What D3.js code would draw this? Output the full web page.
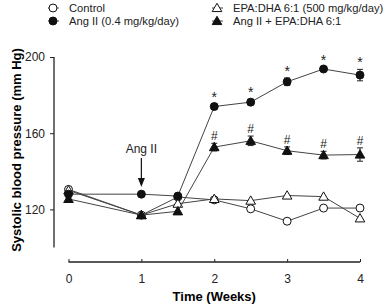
<!DOCTYPE html>
<html lang="en">
<head>
    <meta charset="UTF-8">
    <title>Systolic blood pressure</title>
    <script src="https://d3js.org/d3.v7.min.js"></script>
    <style>
        body {
            margin: 0;
            background: #fff;
            font-family: Arial, "Liberation Sans", sans-serif;
        }
    </style>
</head>
<body>
    <div id="chart"></div>

    <script>
        // data
        const weeks = [0, 1, 1.5, 2, 2.5, 3, 3.5, 4];
        const control = [130.5, 117, 126.5, 125, 120.3, 113.8, 120.7, 120.7];
        const epaDha = [130, 117, 123, 125.5, 124.6, 127.3, 126.7, 115.3];
        const angEpa = [125.5, 117, 119, 152.7, 156, 150.8, 148.5, 148.8];
        const angEpaErr = [0, 0, 0, 2, 2.5, 2, 2, 3.5];
        const angII = [128, 128, 127, 174, 176.3, 187, 193.7, 190.5];
        const angIIErr = [0, 0, 0, 1.5, 1.5, 2, 1, 3];
        const xTicks = [0, 1, 2, 3, 4];
        const yTicks = [120, 160, 200];

        const width = 390;
        const height = 305;

        const svg = d3.select("#chart")
            .append("svg")
            .attr("width", width)
            .attr("height", height);

        const x = d3.scaleLinear().domain([0, 4]).range([68.5, 360]);
        const y = d3.scaleLinear().domain([100, 200]).range([247.5, 57]);

        // axes (offset, sigmaplot style)
        const yAxis = svg.append("g")
            .attr("transform", "translate(54,0)")
            .call(d3.axisLeft(y).tickValues(yTicks).tickSize(4).tickPadding(5).tickFormat(d3.format("d")));
        const xAxis = svg.append("g")
            .attr("transform", "translate(0,262)")
            .call(d3.axisBottom(x).tickValues(xTicks).tickSize(-3).tickPadding(8).tickFormat(d3.format("d")));

        [xAxis, yAxis].forEach(g => {
            g.select(".domain").attr("d", null);
            g.selectAll("text").attr("font-size", 12).attr("font-family", "Arial, 'Liberation Sans', sans-serif").attr("fill", "#222");
            g.selectAll("line").attr("stroke", "#222");
        });
        xAxis.append("line").attr("x1", x(0)).attr("x2", x(4)).attr("stroke", "#222").attr("stroke-width", 1.3);
        xAxis.selectAll(".tick text").attr("dy", "1.05em");
        yAxis.append("line").attr("y1", y(200)).attr("y2", y(100)).attr("stroke", "#222").attr("stroke-width", 1.3);

        // axis titles
        svg.append("text")
            .attr("x", x(2))
            .attr("y", 301)
            .attr("text-anchor", "middle")
            .attr("font-size", 13)
            .attr("font-weight", "bold")
            .text("Time (Weeks)");
        svg.append("text")
            .attr("transform", "translate(21,150) rotate(-90)")
            .attr("text-anchor", "middle")
            .attr("font-size", 13)
            .attr("font-weight", "bold")
            .text("Systolic blood pressure (mm Hg)");

        const series = [
            { name: "Control", values: control, shape: "circle", fill: "#fff" },
            { name: "EPA:DHA 6:1 (500 mg/kg/day)", values: epaDha, shape: "triangle", fill: "#fff" },
            { name: "Ang II + EPA:DHA 6:1", values: angEpa, err: angEpaErr, mark: "#", shape: "triangle", fill: "#111" },
            { name: "Ang II (0.4 mg/kg/day)", values: angII, err: angIIErr, mark: "*", shape: "circle", fill: "#111" }
        ];

        const circle = d3.symbol().type(d3.symbolCircle).size(50);
        const triangle = d3.symbol().type(d3.symbolTriangle).size(40);

        const line = d3.line()
            .x(d => x(d[0]))
            .y(d => y(d[1]));

        function drawMarker(g, s, px, py) {
            g.append("path")
                .attr("d", s.shape === "circle" ? circle() : triangle())
                .attr("transform", `translate(${px},${py + (s.shape === "triangle" ? 0.8 : 0)})`)
                .attr("fill", s.fill)
                .attr("stroke", "#111")
                .attr("stroke-width", 1);
        }

        series.forEach(s => {
            const pts = weeks.map((w, i) => [w, s.values[i]]);
            const g = svg.append("g");
            g.append("path")
                .datum(pts)
                .attr("fill", "none")
                .attr("stroke", "#444")
                .attr("stroke-width", 1)
                .attr("d", line);

            if (s.err) {
                pts.forEach((p, i) => {
                    const e = s.err[i];
                    if (!e) return;
                    [p[1] - e, p[1] + e].forEach(v => {
                        g.append("line").attr("x1", x(p[0])).attr("x2", x(p[0]))
                            .attr("y1", y(p[1])).attr("y2", y(v)).attr("stroke", "#222");
                        g.append("line").attr("x1", x(p[0]) - 3).attr("x2", x(p[0]) + 3)
                            .attr("y1", y(v)).attr("y2", y(v)).attr("stroke", "#222");
                    });
                    g.append("text")
                        .attr("x", x(p[0]))
                        .attr("y", y(p[1] + e) - (s.mark === "*" ? 2 : 3))
                        .attr("text-anchor", "middle")
                        .attr("font-size", s.mark === "*" ? 14 : 12)
                        .attr("fill", "#222")
                        .text(s.mark);
                });
            }

            pts.forEach(p => drawMarker(g, s, x(p[0]), y(p[1])));
        });

        // Ang II annotation with arrow
        svg.append("text")
            .attr("x", x(1))
            .attr("y", 153)
            .attr("text-anchor", "middle")
            .attr("font-size", 12)
            .attr("fill", "#222")
            .text("Ang II");
        svg.append("line")
            .attr("x1", x(1)).attr("x2", x(1))
            .attr("y1", 158).attr("y2", 180)
            .attr("stroke", "#111").attr("stroke-width", 1.2);
        svg.append("path")
            .attr("d", `M${x(1) - 3.5},178 L${x(1) + 3.5},178 L${x(1)},187 Z`)
            .attr("fill", "#111");

        // legend
        const legend = [
            { s: series[0], lx: 53, ly: 8 },
            { s: series[3], lx: 53, ly: 21 },
            { s: series[1], lx: 217, ly: 8 },
            { s: series[2], lx: 217, ly: 21 }
        ];
        legend.forEach(l => {
            const g = svg.append("g");
            g.append("line")
                .attr("x1", l.lx - 5).attr("x2", l.lx + 6)
                .attr("y1", l.ly).attr("y2", l.ly)
                .attr("stroke", "#444");
            drawMarker(g, l.s, l.lx, l.ly);
            g.append("text")
                .attr("x", l.lx + 16)
                .attr("y", l.ly + 4)
                .attr("font-size", 11.2)
                .attr("fill", "#222")
                .text(l.s.name);
        });
    </script>
</body>
</html>
